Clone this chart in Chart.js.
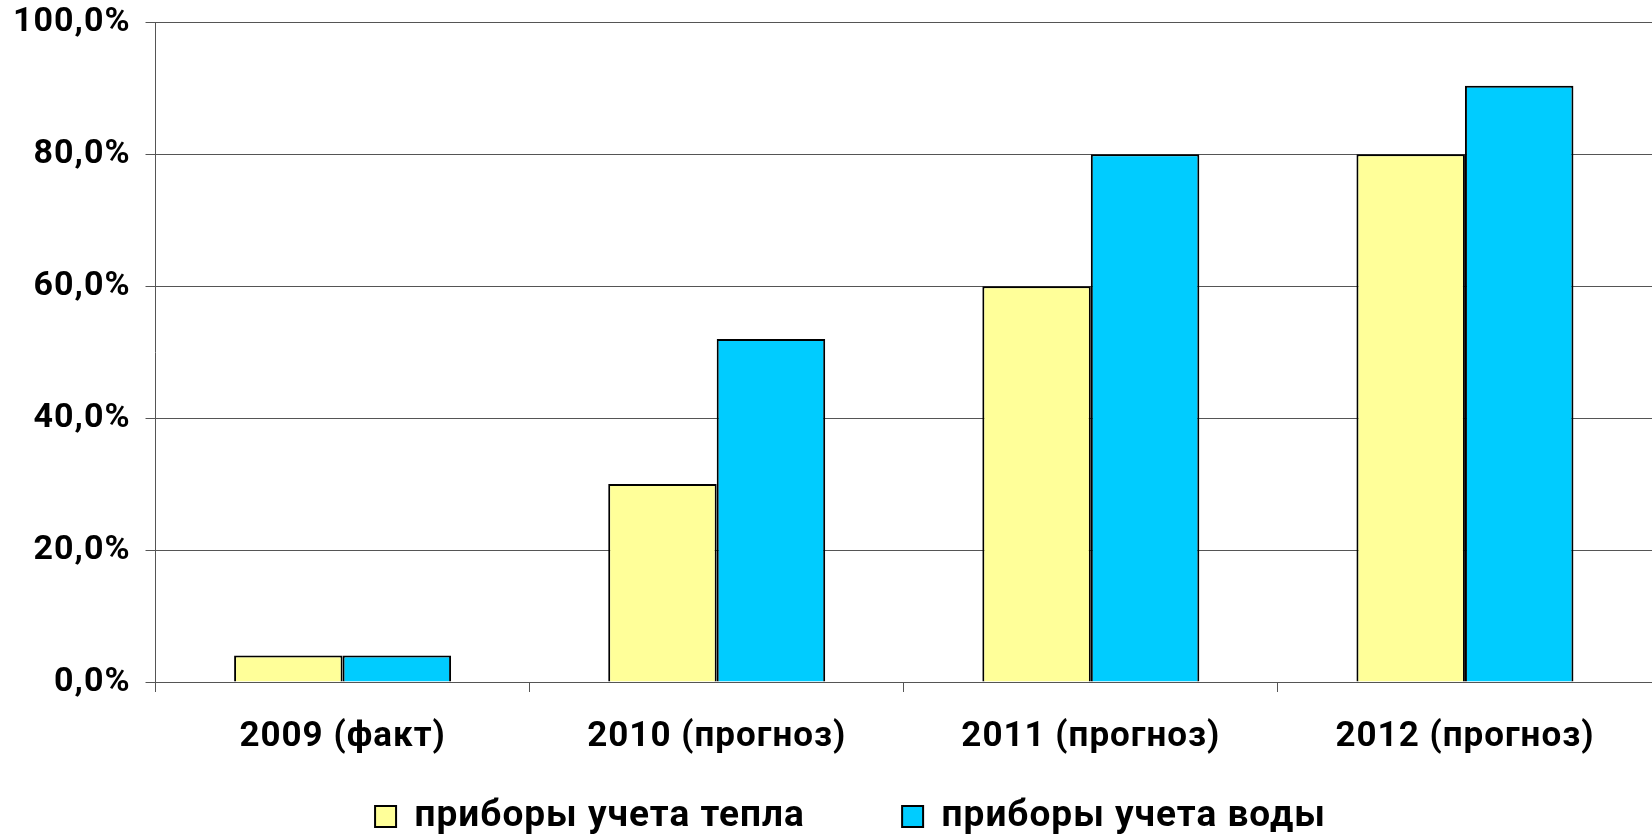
<!DOCTYPE html>
<html>
<head>
<meta charset="utf-8">
<script src="https://cdn.jsdelivr.net/npm/chart.js@4.4.0/dist/chart.umd.min.js"></script>
<style>
  body { margin: 0; background: #fff; }
</style>
</head>
<body>
<canvas id="chartContainer" width="1652" height="838"></canvas>
<script>
var years = ['2009 (факт)', '2010 (прогноз)', '2011 (прогноз)', '2012 (прогноз)'];
var heatMeters = [4, 30, 60, 80];
var waterMeters = [4, 52, 80, 90.4];
var yTicks = [0, 20, 40, 60, 80, 100];

// spacing between letters like in the original picture
var spacing = {
    id: 'spacing',
    beforeLayout: function (chart) { chart.ctx.letterSpacing = '1px'; },
    beforeDraw: function (chart) { chart.ctx.letterSpacing = '1px'; }
};

// legend sits a bit right of the centre in the original
var legendShift = {
    id: 'legendShift',
    afterLayout: function (chart) {
        chart.legend.left += 20;
        chart.legend.right += 20;
    }
};

var options = {
    type: 'bar',
    data: {
        labels: years,
        datasets: [{
            label: 'приборы учета тепла',
            backgroundColor: '#FFFF99',
            borderColor: '#000000',
            borderWidth: 2,
            data: heatMeters
        }, {
            label: 'приборы учета воды',
            backgroundColor: '#00CCFF',
            borderColor: '#000000',
            borderWidth: 2,
            data: waterMeters
        }]
    },
    options: {
        responsive: false,
        animation: false,
        layout: { padding: { top: 0, right: -11, left: -2, bottom: -7 } },
        datasets: { bar: { categoryPercentage: 0.58, barPercentage: 1 } },
        plugins: {
            tooltip: { enabled: false },
            legend: {
                position: 'bottom',
                labels: {
                    color: '#000',
                    font: { family: 'Roboto', weight: 'bold', size: 37 },
                    boxWidth: 21,
                    boxHeight: 21,
                    padding: 19,
                    generateLabels: function (chart) {
                        var items = Chart.defaults.plugins.legend.labels.generateLabels(chart);
                        items[0].text += '\u2002\u2002\u2002 \u2009'; // wider gap between the two items
                        return items;
                    }
                }
            }
        },
        scales: {
            x: {
                afterFit: function (axis) {
                    axis.paddingRight = -11; // plot runs slightly past the right edge
                    axis.height -= 3;
                },
                grid: { drawOnChartArea: false, drawTicks: true, tickLength: 10, color: '#555' },
                border: { color: '#555' },
                ticks: {
                    color: '#000',
                    font: { family: 'Roboto', weight: 'bold', size: 35 },
                    padding: 24
                }
            },
            y: {
                min: 0,
                max: 100,
                afterBuildTicks: function (axis) {
                    axis.ticks = yTicks.map(function (v) { return { value: v }; });
                },
                afterFit: function (axis) {
                    axis.paddingTop -= 13;
                    axis.paddingRight = -11;
                },
                grid: { color: '#555', tickLength: 10 },
                border: { color: '#555' },
                ticks: {
                    color: '#000',
                    font: { family: 'Roboto', weight: 'bold', size: 34 },
                    padding: 15,
                    callback: function (v) { return v.toFixed(1).replace('.', ',') + '%'; }
                }
            }
        }
    },
    plugins: [spacing, legendShift]
};

var ctx = document.getElementById('chartContainer').getContext('2d');
new Chart(ctx, options);
</script>
</body>
</html>
